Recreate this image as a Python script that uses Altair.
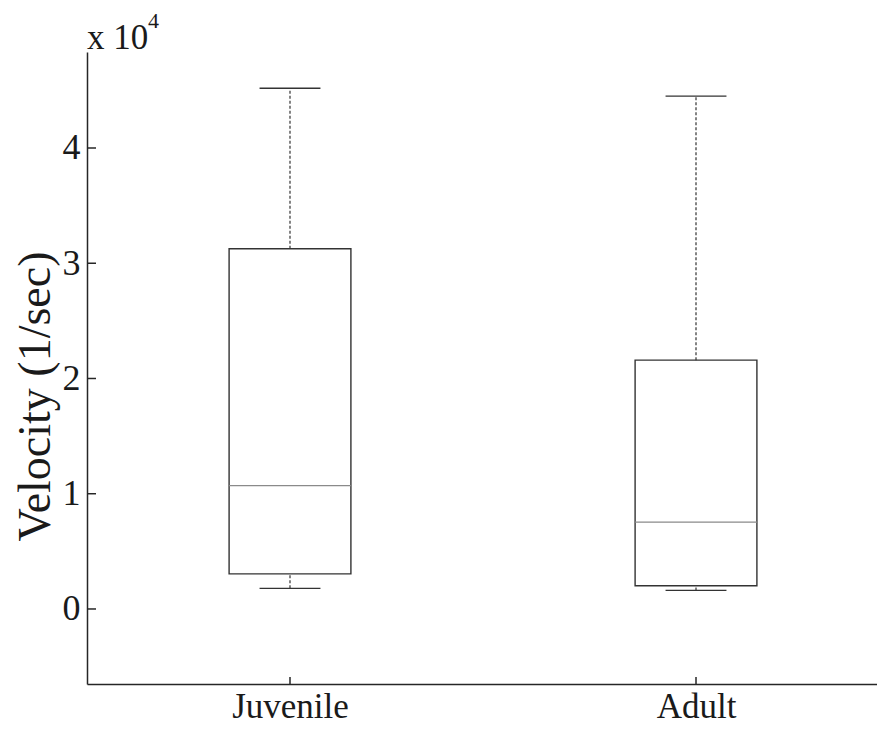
import altair as alt
import pandas as pd

# ---- data (values in 1/sec) ----
categories = ["Juvenile", "Adult"]
positions = [1, 2]
lower_whisker = [1790, 1610]
q1 = [3050, 2010]
median = [10710, 7540]
q3 = [31260, 21590]
upper_whisker = [45190, 44500]
y_ticks = [0, 10000, 20000, 30000, 40000]

# ---- layout / style ----
x_domain = [0.5, 2.4458]
y_domain = [-6510, 48330]
W, H = 790, 632
box_half = 0.15
cap_half = 0.075
FONT = "Liberation Serif"
DARK = "#262626"
LINE = "#333333"
MED = "#8a8a8a"
TXT = "#1a1a1a"

df = pd.DataFrame({
    "cat": categories,
    "pos": positions,
    "lo": lower_whisker,
    "q1": q1,
    "med": median,
    "q3": q3,
    "hi": upper_whisker,
})
df["box_l"] = df["pos"] - box_half
df["box_r"] = df["pos"] + box_half
df["cap_l"] = df["pos"] - cap_half
df["cap_r"] = df["pos"] + cap_half

ticks_df = pd.DataFrame({"t": y_ticks})

label_expr = " : ".join(
    f"datum.value == {p} ? '{c}'" for p, c in zip(positions[:-1], categories[:-1])
) + f" : '{categories[-1]}'"

xscale = alt.Scale(domain=x_domain, nice=False, zero=False)
yscale = alt.Scale(domain=y_domain, nice=False, zero=False)

xaxis = alt.Axis(values=positions, labelExpr=label_expr, ticks=False, tickSize=0,
                 labelFont=FONT, labelFontSize=35, labelColor=TXT,
                 labelPadding=5, domainColor=DARK, domainWidth=1.5, grid=False)
yaxis = alt.Axis(values=y_ticks, labelExpr="format(datum.value / 10000, 'd')",
                 ticks=False, tickSize=0, labelFont=FONT, labelFontSize=36,
                 labelColor=TXT, labelPadding=7, domainColor=DARK,
                 domainWidth=1.5, grid=False, titleFont=FONT, titleFontSize=46,
                 titleFontWeight="normal", titleColor=TXT,
                 titleX=-52, titleY=344, titleBaseline="middle", titleAngle=270)


def X(f):
    return alt.X(f, type="quantitative", scale=xscale, axis=xaxis, title=None)


def Y(f):
    return alt.Y(f, type="quantitative", scale=yscale, axis=yaxis, title="Velocity (1/sec)")


base = alt.Chart(df)

whisk_hi = base.mark_rule(color=LINE, strokeWidth=1.2, strokeDash=[3, 2]).encode(
    x=X("pos"), y=Y("q3"), y2="hi")
whisk_lo = base.mark_rule(color=LINE, strokeWidth=1.2, strokeDash=[3, 2]).encode(
    x=X("pos"), y=Y("lo"), y2="q1")
cap_hi = base.mark_rule(color=LINE, strokeWidth=1.4).encode(
    x=X("cap_l"), x2="cap_r", y=Y("hi"))
cap_lo = base.mark_rule(color=LINE, strokeWidth=1.4).encode(
    x=X("cap_l"), x2="cap_r", y=Y("lo"))
box = base.mark_rect(fill="white", stroke=LINE, strokeWidth=1.4).encode(
    x=X("box_l"), x2="box_r", y=Y("q1"), y2="q3")
med = base.mark_rule(color=MED, strokeWidth=1.3).encode(
    x=X("box_l"), x2="box_r", y=Y("med"))

ytick_marks = alt.Chart(ticks_df).mark_rule(color=DARK, strokeWidth=1.5).encode(
    y=Y("t"), x=alt.value(0), x2=alt.value(9))
xtick_marks = base.mark_rule(color=DARK, strokeWidth=1.5).encode(
    x=X("pos"), y=alt.value(H - 7), y2=alt.value(H))

mult = alt.Chart(pd.DataFrame({"s": ["x 10"]})).mark_text(
    align="left", baseline="alphabetic", font=FONT, fontSize=35, color=TXT
).encode(x=alt.value(0), y=alt.value(-3), text="s:N")
expo = alt.Chart(pd.DataFrame({"s": ["4"]})).mark_text(
    align="left", baseline="alphabetic", font=FONT, fontSize=22, color=TXT
).encode(x=alt.value(61), y=alt.value(-24), text="s:N")

chart = alt.layer(
    box, whisk_hi, whisk_lo, cap_hi, cap_lo, med, ytick_marks, xtick_marks, mult, expo
).properties(
    width=W, height=H,
    autosize=alt.AutoSizeParams(type="none"),
    padding={"left": 79, "top": 44, "right": 0, "bottom": 40},
).configure_view(stroke=None)

chart.save("out.html", embed_options={"renderer": "svg", "actions": False})
